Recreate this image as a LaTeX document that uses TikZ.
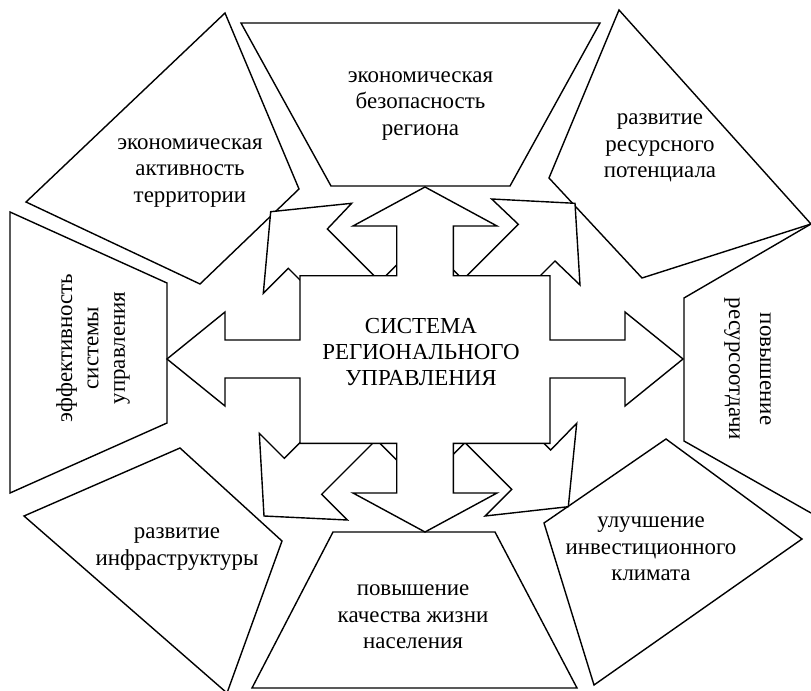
\documentclass[tikz,border=0pt]{standalone}
\usepackage{fontspec}
\setmainfont{Liberation Serif}
\begin{document}
\begin{tikzpicture}[x=1bp,y=-1bp,line join=miter,
  shp/.style={draw=black,line width=1.4bp},
  arr/.style={draw=black,fill=white,line width=1.4bp},
  lbl/.style={align=center,font=\fontsize{23}{26.5}\selectfont,inner sep=0pt}]
\useasboundingbox (0,0) rectangle (811,691);
% outer shapes
\draw[shp] (241,23) -- (600,23) -- (510,186) -- (331,186) -- cycle;
\draw[shp] (225,13) -- (299,189) -- (200,284) -- (26,202) -- cycle;
\draw[shp] (619,10) -- (811,224) -- (642,278) -- (549,178) -- cycle;
\draw[shp] (10,212) -- (167,283) -- (167,423) -- (10,493) -- cycle;
\draw[shp] (811,224) -- (684,298) -- (684,441) -- (811,513);
\draw[shp] (180,448) -- (282,541) -- (227,693) -- (24,516) -- cycle;
\draw[shp] (333,532) -- (495,532) -- (577,688) -- (252,688) -- cycle;
\draw[shp] (666,439) -- (802,539) -- (594,685) -- (544,523) -- cycle;
% diagonal quad arrow (behind)
\draw[arr] (422.5,239.2) -- (380,281.7) -- (327.3,229) -- (351.7,203.3) -- (270.7,211.7)
  -- (263.3,293.3) -- (288.3,268.3) -- (340.85,320.85) -- (299.2,362.5)
  -- (339.65,402.95) -- (284.3,458.3) -- (259.3,433.3) -- (264,516) -- (347.3,520)
  -- (321.7,494.3) -- (376.35,439.65) -- (422.1,485.4)
  -- (464.95,442.55) -- (511.7,489.3) -- (485,516) -- (568.3,506.7) -- (576.7,423.3)
  -- (550.7,450) -- (504.1,403.4) -- (545.4,362.1)
  -- (499.65,316.35) -- (555,261) -- (580,285) -- (575,203.3) -- (491.7,199)
  -- (518.3,224.3) -- (462.95,279.65) -- cycle;
% main quad arrow callout
\draw[arr] (425,187) -- (497,226) -- (453.3,226) -- (453.3,275.7) -- (550,275.7)
  -- (550,340) -- (625,340) -- (625,312) -- (683,359) -- (625,406) -- (625,378)
  -- (550,378) -- (550,443.3) -- (453.3,443.3) -- (453.3,493) -- (497,493)
  -- (425,532) -- (353,493) -- (396.7,493) -- (396.7,443.3) -- (300,443.3)
  -- (300,378) -- (225,378) -- (225,406) -- (167,359) -- (225,312) -- (225,340)
  -- (300,340) -- (300,275.7) -- (396.7,275.7) -- (396.7,226) -- (353,226) -- cycle;
% labels
\node[lbl] (center) at (421,352) {СИСТЕМА\\РЕГИОНАЛЬНОГО\\УПРАВЛЕНИЯ};
\node[lbl] (top) at (420.5,106) {экономическая\\безопасность\\региона};
\node[lbl] (ul) at (190,173) {экономическая\\активность\\территории};
\node[lbl] (ur) at (660,148) {развитие\\ресурсного\\потенциала};
\node[lbl,rotate=90] (left) at (93,348) {эффективность\\системы\\управления};
\node[lbl,rotate=-90] (right) at (747.5,369) {повышение\\[4.5bp]ресурсоотдачи};
\node[lbl] (ll) at (177,549) {развитие\\инфраструктуры};
\node[lbl] (bottom) at (413,617) {повышение\\качества жизни\\населения};
\node[lbl] (lr) at (651,549) {улучшение\\инвестиционного\\климата};
\end{tikzpicture}
\end{document}
